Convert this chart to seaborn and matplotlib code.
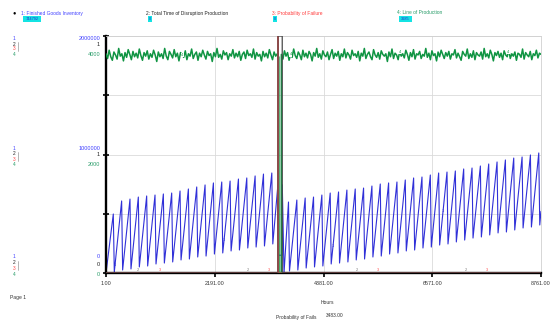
import numpy as np
import seaborn as sns
import matplotlib.pyplot as plt
from matplotlib.patches import Rectangle

sns.set_theme(style="white")
plt.rcParams['font.family'] = ['Liberation Sans', 'DejaVu Sans']

# 1: Finished Goods Inventory (thousand units) - weekly peaks and troughs
fgi_peaks_pre = [498, 608, 624, 641, 650, 658, 667, 675, 692, 709,
                 726, 743, 760, 768, 776, 793, 802, 819, 835, 844]
fgi_troughs_pre = [8, 25, 34, 51, 59, 76, 84, 93, 110, 118,
                   135, 143, 160, 169, 186, 194, 211, 219, 228, 245]
fgi_peaks_post = [599, 616, 633, 641, 658, 675, 684, 700, 709, 717,
                  734, 751, 760, 768, 785, 802, 810, 827, 844, 852,
                  861, 878, 886, 903, 920, 937, 954, 970, 979, 996, 1013]
fgi_troughs_post = [17, 25, 42, 51, 59, 76, 84, 93, 110, 118,
                    135, 143, 160, 169, 186, 194, 211, 219, 236, 245,
                    262, 278, 295, 304, 321, 338, 346, 363, 380, 388, 405]
fgi_disrupt_hours = [3463, 3466, 3548, 3551, 3586]
fgi_disrupt_values = [744.792, 150, 150, 744, 0]
fgi_end_hour, fgi_end_value = 8761, 520

# 4: Line of Production
lop_pre = [3700, 3620, 3760, 3650, 3590, 3730, 3680, 3610, 3790, 3660,
           3700, 3580, 3720, 3640, 3770, 3690, 3600, 3740, 3650, 3710,
           3630, 3780, 3670, 3590, 3720, 3660, 3750, 3610, 3700, 3640,
           3760, 3680, 3570, 3730, 3650, 3700, 3620, 3790, 3660, 3600,
           3740, 3690, 3630, 3770, 3650, 3710, 3580, 3720, 3680, 3640,
           3750, 3600, 3700, 3660, 3780, 3620, 3690, 3730, 3590, 3710,
           3650, 3760, 3680, 3610, 3740, 3670, 3700, 3570, 3720, 3650,
           3790, 3640, 3690, 3610, 3750, 3680, 3720, 3600, 3700, 3660,
           3770, 3630, 3710, 3650, 3740, 3590, 3690, 3730, 3620, 3760,
           3670, 3700, 3640, 3780, 3610, 3720, 3660, 3690, 3580, 3740,
           3650, 3710, 3630, 3770, 3680, 3600, 3730, 3660, 3700, 3640]
lop_post = [3690, 3610, 3750, 3660, 3720, 3590, 3700, 3640, 3780, 3670,
            3620, 3730, 3680, 3600, 3760, 3650, 3710, 3630, 3740, 3690,
            3580, 3720, 3660, 3790, 3640, 3700, 3610, 3750, 3680, 3650,
            3730, 3600, 3690, 3770, 3620, 3710, 3660, 3740, 3590, 3700,
            3650, 3780, 3630, 3720, 3680, 3610, 3760, 3670, 3700, 3640,
            3740, 3580, 3710, 3660, 3790, 3620, 3690, 3730, 3650, 3600,
            3770, 3680, 3640, 3720, 3610, 3750, 3690, 3660, 3700, 3570,
            3730, 3650, 3780, 3620, 3710, 3680, 3600, 3740, 3660, 3700,
            3630, 3760, 3690, 3590, 3720, 3650, 3770, 3610, 3700, 3680,
            3740, 3620, 3690, 3660, 3790, 3640, 3710, 3600, 3750, 3670,
            3700, 3580, 3730, 3650, 3760, 3690, 3620, 3720, 3660, 3740,
            3610, 3700, 3680, 3770, 3630, 3710, 3650, 3590, 3740, 3690,
            3660, 3780, 3620, 3700, 3640, 3750, 3600, 3720, 3680, 3660,
            3730, 3610, 3790, 3650, 3700, 3630, 3760, 3690, 3580, 3720,
            3670, 3740, 3640, 3710, 3600, 3750, 3680, 3650, 3770, 3620,
            3700, 3660, 3730, 3590, 3710, 3690, 3640, 3780, 3610, 3720,
            3680, 3650, 3740, 3600, 3700, 3670, 3760, 3630, 3710, 3690]
lop_stop_hours = [3485, 3530]

# 2: Total Time of Disruption Production, 3: Probability of Failure
ttd_hours = [1, 3464, 3465, 3550, 3551, 8761]
ttd_values = [0, 0, 1, 1, 0, 0]
pof_hours = [1, 3464, 3465, 3466, 8761]
pof_values = [0, 0, 1, 0, 0]

x_ticks = [1, 2191, 4381, 6571, 8761]
legend_titles = ["1: Finished Goods Inventory", "2: Total Time of Disruption Production",
                 "3: Probability of Failure", "4: Line of Production"]
legend_values = ["744792", "0", "0", "3685"]

BLUE, BLACK, RED, GREEN = '#3030d8', '#4a4a4a', '#ff4a4a', '#0f9442'
TXT = ['#4040ff', '#222222', '#ff3b3b', '#2a9d6a']
CYAN = '#14e3e3'

# build inventory path
fgi_h, fgi_v = [1], [0]
for k, (p, t) in enumerate(zip(fgi_peaks_pre, fgi_troughs_pre)):
    h = 148 + 168 * k
    fgi_h += [h, h + 20]
    fgi_v += [p, t]
fgi_h += fgi_disrupt_hours
fgi_v += fgi_disrupt_values
for j, (p, t) in enumerate(zip(fgi_peaks_post, fgi_troughs_post)):
    h = 148 + 168 * (21 + j)
    fgi_h += [h, h + 20]
    fgi_v += [p, t]
fgi_h.append(fgi_end_hour)
fgi_v.append(fgi_end_value)
fgi_h = np.array(fgi_h, dtype=float)
fgi_v = np.array(fgi_v, dtype=float) * 1000

lop_h = np.concatenate([np.linspace(1, 3482, len(lop_pre)), lop_stop_hours,
                        np.linspace(3533, 8761, len(lop_post))])
lop_v = np.array(lop_pre + [0, 0] + lop_post, dtype=float)

fig = plt.figure(figsize=(5.5, 3.26), dpi=100)
fig.patch.set_facecolor('white')
ax = fig.add_axes([106 / 550, 53 / 326, 435 / 550, 237 / 326])
ax2 = ax.twinx()
ax3 = ax.twinx()

ax.set_xlim(1, 8761)
ax.set_ylim(0, 2000000)
ax2.set_ylim(0, 4000)
ax3.set_ylim(0, 1)

sns.lineplot(x=fgi_h, y=fgi_v, ax=ax, color=BLUE, linewidth=0.8,
             estimator=None, sort=False)
sns.lineplot(x=lop_h, y=lop_v, ax=ax2, color=GREEN, linewidth=1.1,
             estimator=None, sort=False)
sns.lineplot(x=pof_hours, y=pof_values, ax=ax3, color=RED, linewidth=0.7,
             estimator=None, sort=False)
sns.lineplot(x=ttd_hours, y=ttd_values, ax=ax3, color=BLACK, linewidth=0.9,
             estimator=None, sort=False)

ax.set_xticks(x_ticks)
ax.set_xticklabels([f"{v:.2f}" for v in x_ticks])
ax.set_yticks([0, 500000, 1000000, 1500000, 2000000])
ax.tick_params(axis='y', labelleft=False, left=True, direction='inout',
               length=4, width=1.2, color='black')
ax.tick_params(axis='x', bottom=True, direction='out', length=3, width=1.2,
               color='black', labelsize=3.9, labelcolor='#333333', pad=3)
ax.grid(True, color='#dadada', linewidth=0.6)
ax.set_xlabel('')
ax.set_ylabel('')
for s in ['left', 'bottom']:
    ax.spines[s].set_color('black')
    ax.spines[s].set_linewidth(1.7)
for s in ['top', 'right']:
    ax.spines[s].set_color('#d0d0d0')
    ax.spines[s].set_linewidth(0.6)
for tw in (ax2, ax3):
    tw.set_axis_off()

# series markers on the lines
for h in [182, 2378, 4573, 6788]:
    ax.text(h, np.interp(h, fgi_h, fgi_v), '1', color=BLUE, fontsize=2.8,
            ha='center', va='center')
for h in [645, 2861, 5057, 7252]:
    ax3.text(h, 0.012, '2', color='#777777', fontsize=2.8, ha='center', va='center')
for h in [1089, 3284, 5479, 7675]:
    ax3.text(h, 0.012, '3', color=RED, fontsize=2.8, ha='center', va='center')
for h in [1533, 3723, 5913, 8103]:
    ax2.text(h, np.interp(h, lop_h, lop_v), '4', color=GREEN, fontsize=2.8,
             ha='center', va='center',
             bbox=dict(boxstyle='square,pad=0.1', fc='white', ec='none'))

def px(x, y):
    return x / 550, 1 - y / 326

# header legend
fig.text(*px(14, 12.5), '\u25cf', fontsize=4, color='black', ha='center', va='center')
for title, val, col, tx, bx, bw in zip(legend_titles, legend_values, TXT,
                                       [21, 146, 272, 397], [23, 148, 273, 399],
                                       [18, 4, 4, 13]):
    fig.text(*px(tx, 13), title, fontsize=3.5, color=col, ha='left', va='center')
    x0, y0 = px(bx, 21.5)
    fig.add_artist(Rectangle((x0, y0), bw / 550, 5 / 326, transform=fig.transFigure,
                             facecolor=CYAN, edgecolor='none'))
    fig.text(*px(bx + bw / 2, 19), val, fontsize=2.8, color='#2a2ad0',
             ha='center', va='center')

# left scale labels
scale_groups = [(38, ['2000000', '1', '4000']),
                (148, ['1000000', '1', '2000']),
                (257, ['0', '0', '0'])]
for base, labs in scale_groups:
    for lab, dy, col in zip(labs, [0, 7, 17], [TXT[0], TXT[1], TXT[3]]):
        fig.text(*px(100, base + dy), lab, fontsize=4, color=col, ha='right', va='center')
    for i, dy in enumerate([0, 6, 11, 17]):
        fig.text(*px(14, base + dy), str(i + 1), fontsize=3.5, color=TXT[i] if i != 2 else RED,
                 ha='center', va='center')
    fig.add_artist(plt.Line2D([18 / 550, 18 / 550], [1 - (base + 4) / 326, 1 - (base + 13) / 326],
                              transform=fig.transFigure, color='#999999', linewidth=0.5))

fig.text(*px(10, 297), 'Page 1', fontsize=3.6, color='#333333', ha='left', va='center')
fig.text(*px(327, 303), 'Hours', fontsize=3.6, color='#333333', ha='center', va='center')
fig.text(*px(276, 317), 'Probability of Fails', fontsize=3.5, color='#333333',
         ha='left', va='center')
fig.text(*px(326, 315.5), '3483.00', fontsize=3.5, color='#333333', ha='left', va='center')

fig.savefig('out.png', dpi=100)
